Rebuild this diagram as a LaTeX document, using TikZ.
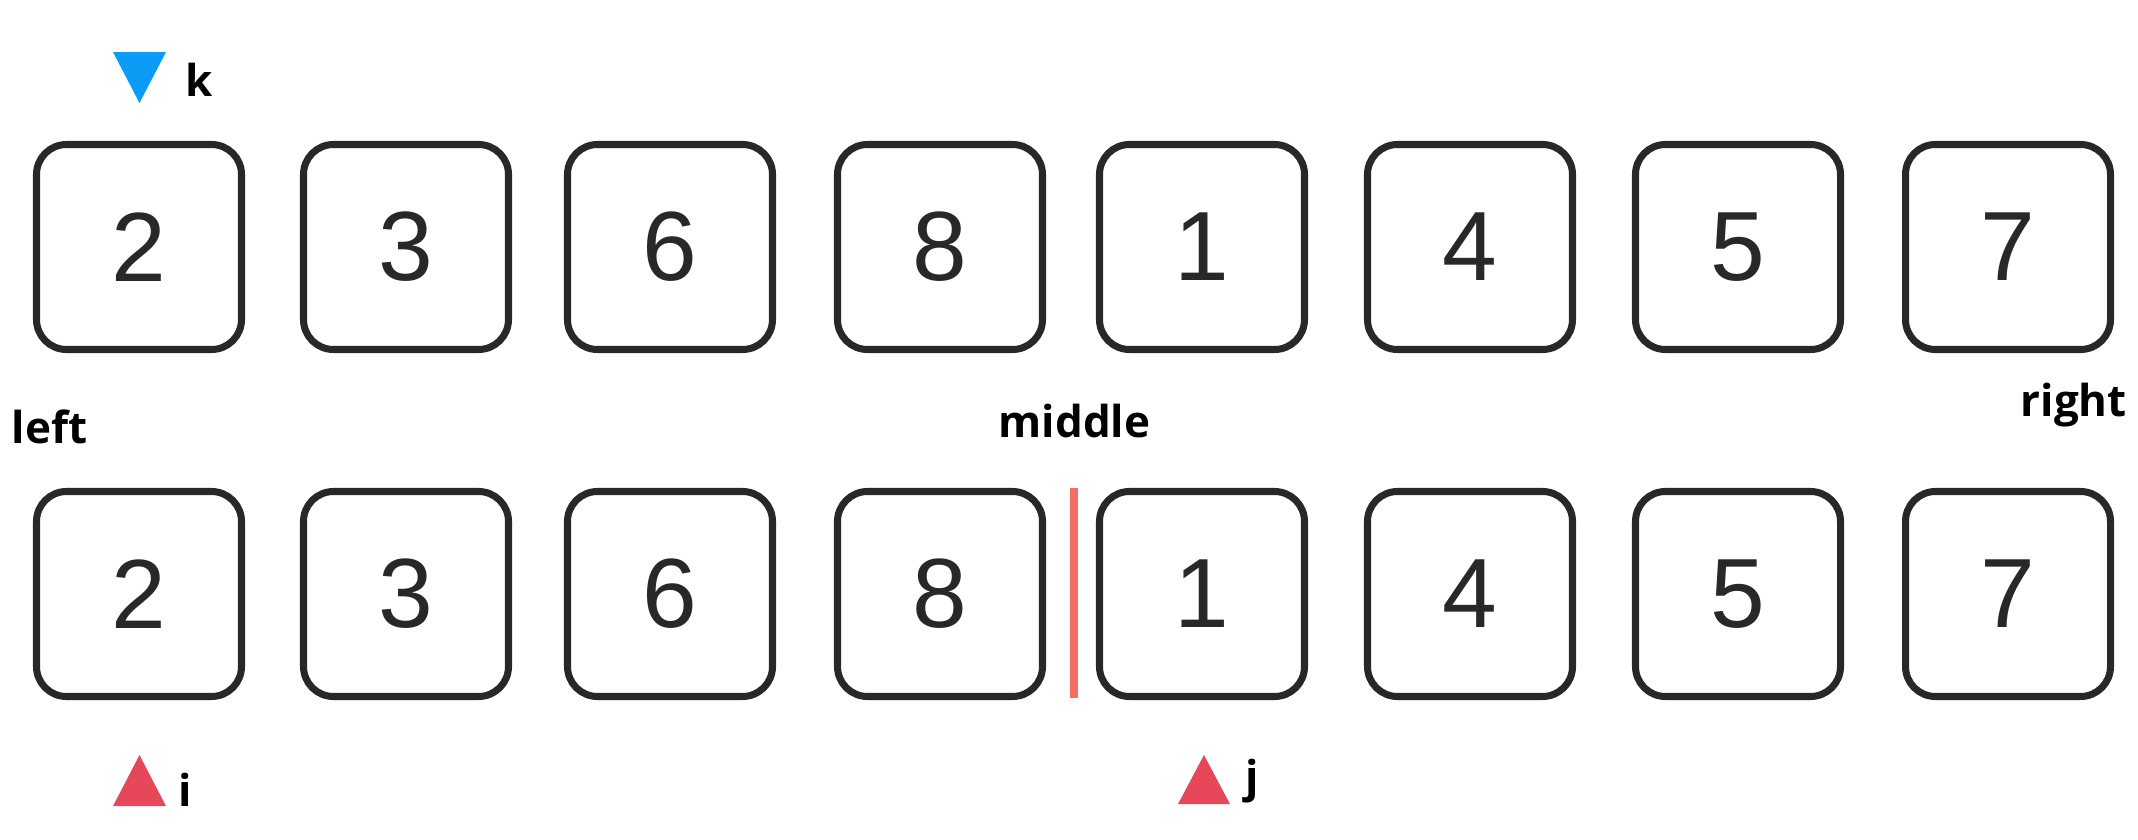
\documentclass[tikz,border=0pt]{standalone}
\usepackage{fontspec}
\setmainfont{Liberation Sans}
\newfontfamily\labelfont{Open Sans}
\usepackage{tikz}

\definecolor{boxline}{RGB}{40,40,40}
\definecolor{kblue}{RGB}{12,156,246}
\definecolor{ptrred}{RGB}{230,72,90}
\definecolor{cutred}{RGB}{245,110,98}

\begin{document}
\begin{tikzpicture}[
  cell/.style={rectangle, rounded corners=0.3cm, draw=boxline, line width=2pt,
    minimum size=2.05cm, inner sep=0pt, text=boxline,
    font=\fontsize{28}{30}\selectfont},
  tag/.style={inner sep=0pt, font=\labelfont\bfseries\fontsize{12.5}{15}\selectfont}]
\useasboundingbox (0,0) rectangle (21.38,8.39);

% first row
\draw
(1.39, 5.92) node[cell](t1){2}
(4.06, 5.92) node[cell](t2){3}
(6.70, 5.92) node[cell](t3){6}
(9.40, 5.92) node[cell](t4){8}
(12.02, 5.92) node[cell](t5){1}
(14.70, 5.92) node[cell](t6){4}
(17.38, 5.92) node[cell](t7){5}
(20.08, 5.92) node[cell](t8){7};

% second row
\draw
(1.39, 2.45) node[cell](b1){2}
(4.06, 2.45) node[cell](b2){3}
(6.70, 2.45) node[cell](b3){6}
(9.40, 2.45) node[cell](b4){8}
(12.02, 2.45) node[cell](b5){1}
(14.70, 2.45) node[cell](b6){4}
(17.38, 2.45) node[cell](b7){5}
(20.08, 2.45) node[cell](b8){7};

% labels
\node[tag, anchor=base west] (lft) at (0.11, 3.96) {left};
\node[tag, anchor=base west] (mid) at (9.98, 4.02) {middle};
\node[tag, anchor=base west] (rgt) at (20.20, 4.23) {right};

% pointers
\fill[kblue] (1.395, 7.36) -- (1.13, 7.87) -- (1.66, 7.87) -- cycle;
\node[tag, anchor=base west] (k) at (1.85, 7.43) {k};
\fill[ptrred] (1.395, 0.84) -- (1.13, 0.33) -- (1.66, 0.33) -- cycle;
\node[tag, anchor=base west] (i) at (1.78, 0.33) {i};
\fill[ptrred] (12.04, 0.84) -- (11.78, 0.35) -- (12.30, 0.35) -- cycle;
\node[tag, anchor=base west] (j) at (12.45, 0.47) {j};

% split line
\coordinate (cuttop) at (10.74, 3.51);
\coordinate (cutbot) at (10.74, 1.41);
\draw[cutred, line width=2pt] (cuttop) -- (cutbot);

\end{tikzpicture}
\end{document}
